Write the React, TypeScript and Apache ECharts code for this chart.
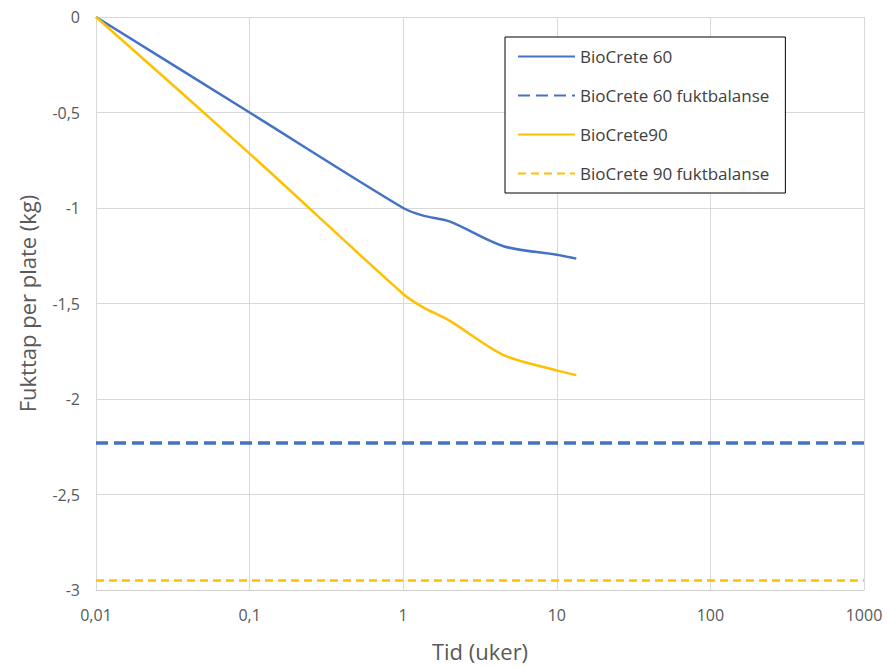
import React, { useEffect, useRef } from "react";
import * as echarts from "echarts";

const bio60X = [0.01, 0.1, 1, 1.35, 2, 4.5, 10, 13.4];
const bio60Y = [0, -0.5, -1.0, -1.04, -1.07, -1.2, -1.245, -1.265];
const bio90X = [0.01, 0.1, 1, 1.35, 2, 4.5, 10, 13.4];
const bio90Y = [0, -0.715, -1.45, -1.52, -1.59, -1.77, -1.85, -1.875];
const balanceX = [0.01, 1000];
const bio60Balance = -2.23;
const bio90Balance = -2.95;
const seriesNames = ["BioCrete 60", "BioCrete 60 fuktbalanse", "BioCrete90", "BioCrete 90 fuktbalanse"];

const fmt = (v: number) => String(v).replace(".", ",");

export default function App() {
  const ref = useRef<HTMLDivElement>(null);
  useEffect(() => {
    if (!ref.current) return;
    const chart = echarts.init(ref.current, null, { renderer: "svg" });
    const font = "Open Sans";
    chart.setOption({
      animation: false,
      textStyle: { fontFamily: font },
      grid: { left: 96, right: 23, top: 17, bottom: 75 },
      legend: {
        orient: "vertical",
        left: 505,
        top: 37,
        padding: [11, 16, 11, 12],
        itemGap: 22,
        itemWidth: 57,
        itemHeight: 17,
        borderColor: "#000",
        borderWidth: 1,
        backgroundColor: "#fff",
        itemStyle: { opacity: 0 },
        textStyle: { fontSize: 17, color: "#404040", fontFamily: font },
        data: seriesNames,
      },
      xAxis: {
        type: "log",
        logBase: 10,
        min: 0.01,
        max: 1000,
        name: "Tid (uker)",
        nameLocation: "middle",
        nameGap: 50,
        nameTextStyle: { fontSize: 22, color: "#595959" },
        axisLine: { onZero: false, lineStyle: { color: "#d0d0d0" } },
        axisTick: { show: false },
        axisLabel: { fontSize: 16, color: "#595959", margin: 17, formatter: (v: number) => fmt(v) },
        splitLine: { show: true, lineStyle: { color: "#d9d9d9" } },
        minorSplitLine: { show: false },
      },
      yAxis: {
        type: "value",
        min: -3,
        max: 0,
        interval: 0.5,
        name: "Fukttap per plate (kg)",
        nameLocation: "middle",
        nameGap: 58,
        nameTextStyle: { fontSize: 22, color: "#595959" },
        axisLine: { show: false },
        axisTick: { show: false },
        axisLabel: { fontSize: 16, color: "#595959", margin: 16, formatter: (v: number) => fmt(v) },
        splitLine: { show: true, lineStyle: { color: "#d9d9d9" } },
      },
      series: [
        {
          name: seriesNames[0],
          type: "line",
          smooth: 0.3,
          showSymbol: false,
          symbol: "none",
          lineStyle: { color: "#4472C4", width: 2.5 },
          itemStyle: { color: "#4472C4" },
          data: bio60X.map((x, i) => [x, bio60Y[i]]),
        },
        {
          name: seriesNames[1],
          type: "line",
          showSymbol: false,
          symbol: "none",
          lineStyle: { color: "#4472C4", width: 3.5, type: [12, 6] },
          itemStyle: { color: "#4472C4" },
          data: balanceX.map((x) => [x, bio60Balance]),
        },
        {
          name: seriesNames[2],
          type: "line",
          smooth: 0.3,
          showSymbol: false,
          symbol: "none",
          lineStyle: { color: "#FFC000", width: 2.5 },
          itemStyle: { color: "#FFC000" },
          data: bio90X.map((x, i) => [x, bio90Y[i]]),
        },
        {
          name: seriesNames[3],
          type: "line",
          showSymbol: false,
          symbol: "none",
          lineStyle: { color: "#FFC000", width: 2.5, type: [8, 5] },
          itemStyle: { color: "#FFC000" },
          data: balanceX.map((x) => [x, bio90Balance]),
        },
      ],
    });
    return () => chart.dispose();
  }, []);
  return <div ref={ref} style={{ width: 887, height: 667, position: "absolute", left: 0, top: 0 }} />;
}
